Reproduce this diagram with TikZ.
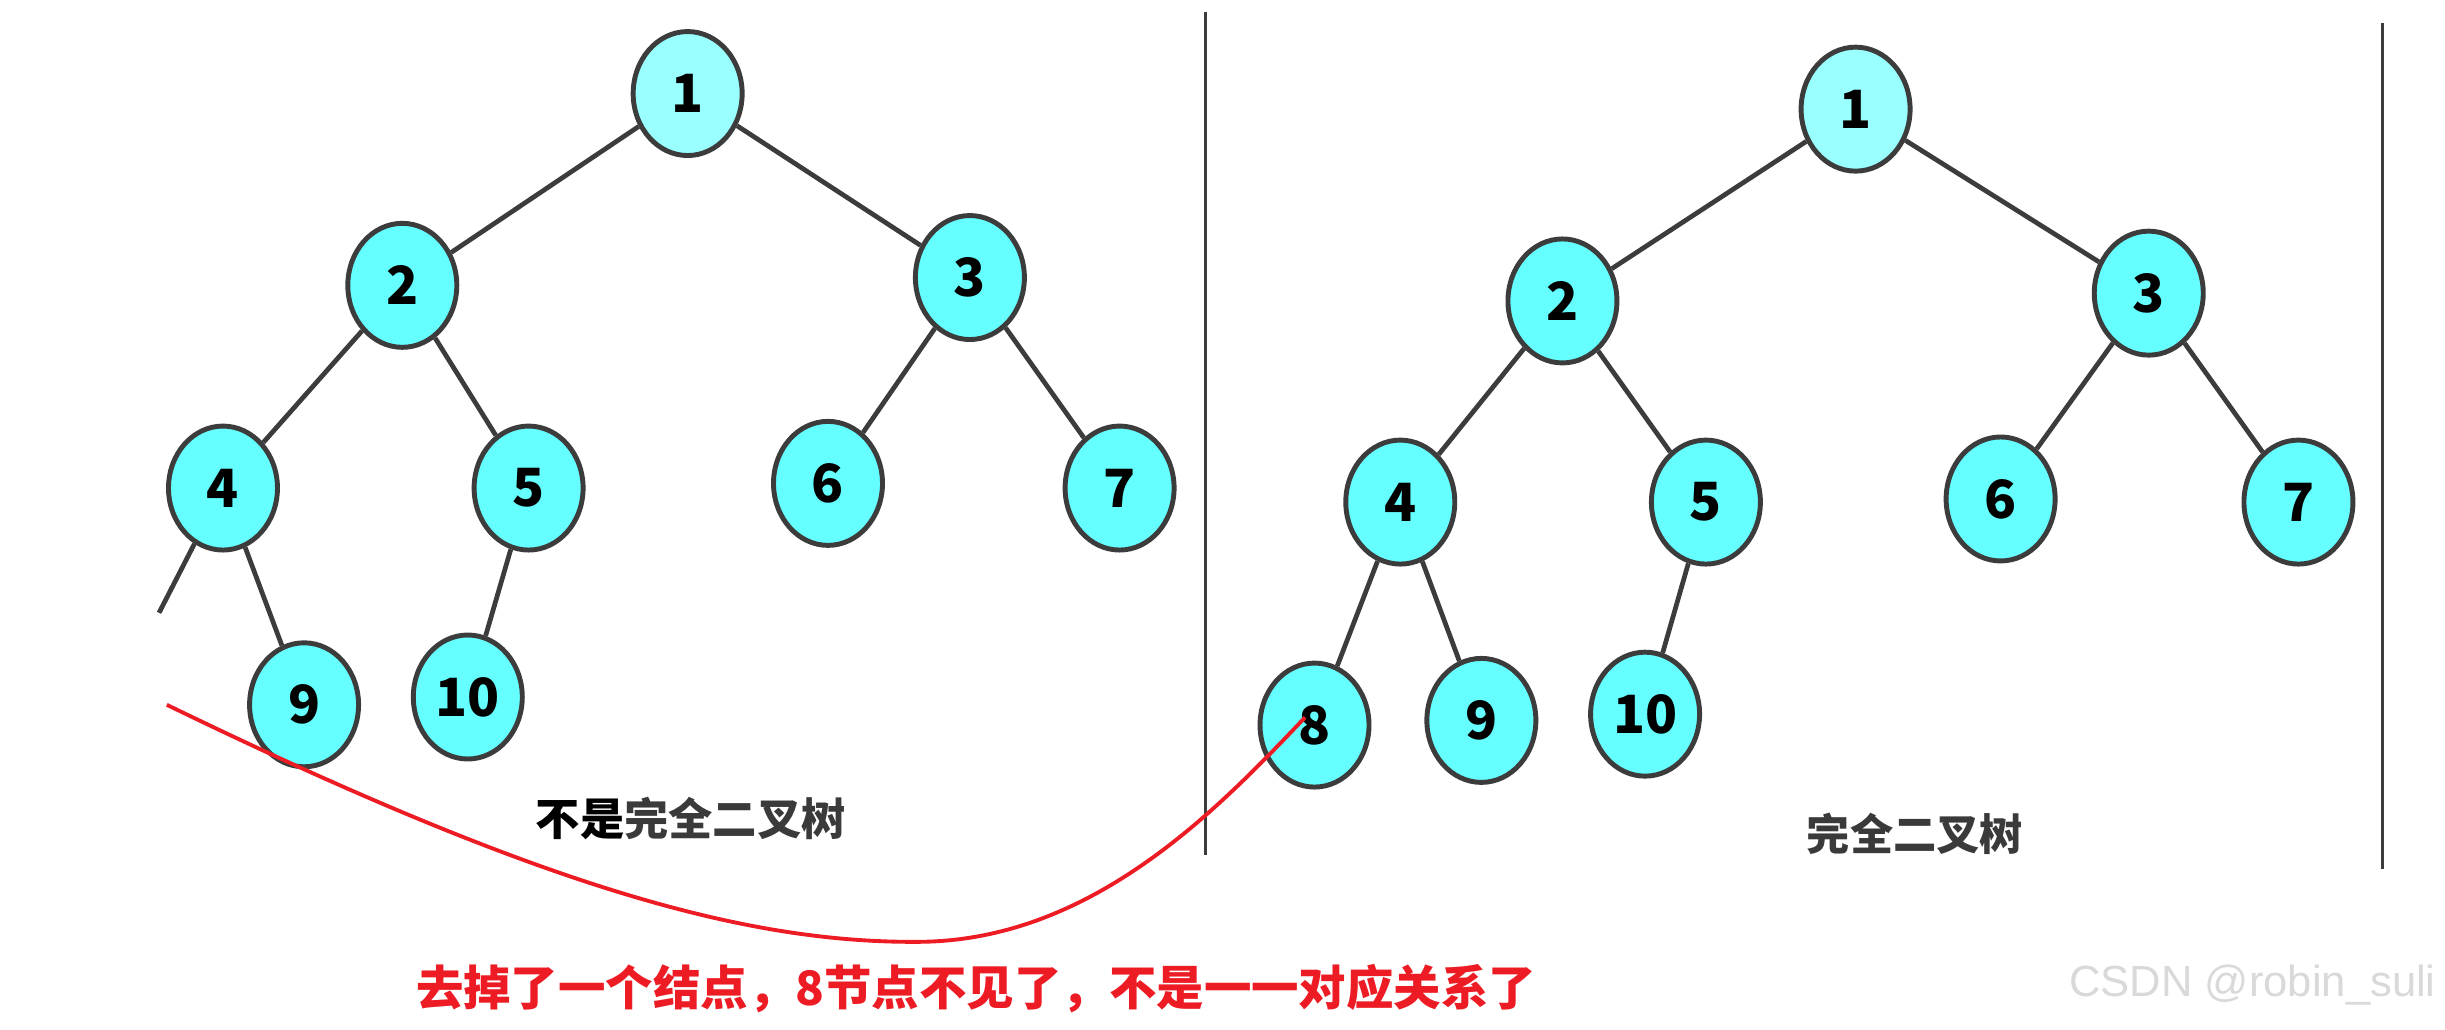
\documentclass[tikz,border=0pt]{standalone}
\usepackage{fontspec}
\setmainfont{Noto Sans CJK SC}
\newfontfamily\wmfont{Liberation Sans}
\usetikzlibrary{shapes.geometric}
\definecolor{nodecyan}{HTML}{66FFFF}
\definecolor{rootcyan}{HTML}{99FFFF}
\definecolor{edgegray}{HTML}{3C3C3C}
\definecolor{labelgray}{HTML}{3A3A3A}
\definecolor{markred}{HTML}{ED1C24}
\definecolor{wmgray}{HTML}{D9D9D9}

\begin{document}
\begin{tikzpicture}[x=0.01559cm, y=-0.01559cm,
	tnode/.style={ellipse, draw=edgegray, line width=1.4pt, fill=nodecyan,
		minimum width=1.09cm, minimum height=1.24cm, inner sep=0pt,
		font=\fontsize{15}{15}\selectfont\bfseries},
	root/.style={tnode, fill=rootcyan},
	tedge/.style={draw=edgegray, line width=1.35pt},
	sepline/.style={draw=edgegray, line width=0.7pt}]
	\useasboundingbox (0,0) rectangle (1568,660);
	% left tree, node 8 removed
	\node[root] (l1) at (441,60) {1};
	\node[tnode] (l2) at (258,183) {2};
	\node[tnode] (l3) at (622,178) {3};
	\node[tnode] (l4) at (143,313) {4};
	\node[tnode] (l5) at (339,313) {5};
	\node[tnode] (l6) at (531,310) {6};
	\node[tnode] (l7) at (718,313) {7};
	\node[tnode] (l9) at (195,452) {9};
	\node[tnode] (l10) at (300,447) {10};
	\coordinate (lcut) at (102,393);
	\foreach \a/\b in {l1/l2,l1/l3,l2/l4,l2/l5,l3/l6,l3/l7,l4/l9,l5/l10}
		\draw[tedge] (\a) -- (\b);
	\draw[tedge] (l4) -- (lcut);
	% right tree
	\node[root] (r1) at (1190,70) {1};
	\node[tnode] (r2) at (1002,193) {2};
	\node[tnode] (r3) at (1378,188) {3};
	\node[tnode] (r4) at (898,322) {4};
	\node[tnode] (r5) at (1094,322) {5};
	\node[tnode] (r6) at (1283,320) {6};
	\node[tnode] (r7) at (1474,322) {7};
	\node[tnode] (r8) at (843,465) {8};
	\node[tnode] (r9) at (950,462) {9};
	\node[tnode] (r10) at (1055,458) {10};
	\foreach \a/\b in {r1/r2,r1/r3,r2/r4,r2/r5,r3/r6,r3/r7,r4/r8,r4/r9,r5/r10}
		\draw[tedge] (\a) -- (\b);
	% separators
	\coordinate (sepltop) at (773,8);
	\coordinate (seplbot) at (773,548);
	\coordinate (seprtop) at (1528,15);
	\coordinate (seprbot) at (1528,557);
	\draw[sepline] (sepltop) -- (seplbot);
	\draw[sepline] (seprtop) -- (seprbot);
	% captions
	\node[font=\fontsize{12.6}{12.6}\selectfont\bfseries] (lcap) at (443,525)
		{\textcolor{black}{不是}\textcolor{labelgray}{完全二叉树}};
	\node[font=\fontsize{12.3}{12.3}\selectfont\bfseries, text=labelgray] (rcap) at (1228,535) {完全二叉树};
	% red remark
	\coordinate (redstart) at (107,452);
	\coordinate (redlow) at (590,604);
	\coordinate (redend) at (837,460);
	\draw[markred, line width=1.1pt] (redstart) .. controls (350,570) and (480,605) .. (redlow)
		.. controls (700,603) and (780,520) .. (redend);
	\node[font=\fontsize{13.5}{13.5}\selectfont\bfseries, text=markred] (remark) at (626,634)
		{去掉了一个结点，8节点不见了，不是一一对应关系了};
	\node[font=\wmfont\fontsize{12.4}{12.4}\selectfont, text=wmgray, anchor=east] (wm) at (1570,632)
		{CSDN @robin\_suli};
\end{tikzpicture}
\end{document}
